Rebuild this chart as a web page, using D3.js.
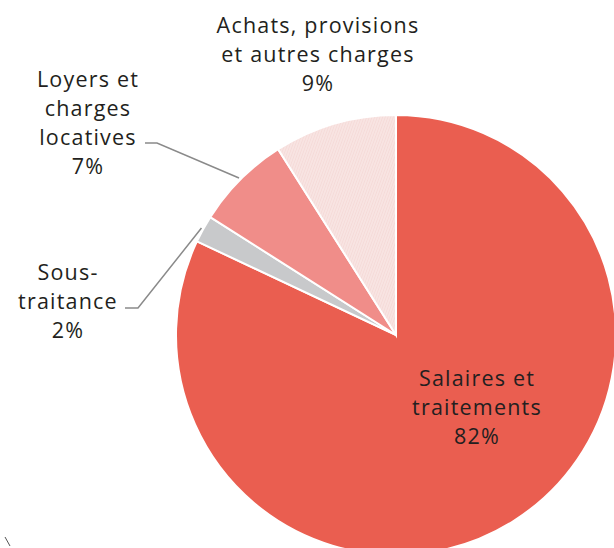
<!DOCTYPE html>
<html>
<head>
<meta charset="utf-8">
<script src="https://cdn.jsdelivr.net/npm/d3@7/dist/d3.min.js"></script>
<style>
  body { margin: 0; background: #fff; }
  svg { display: block; }
  text { font-family: "Open Sans", "Noto Sans", sans-serif; fill: #231f20; }
</style>
</head>
<body>
<svg id="chart" width="614" height="548"></svg>
<script>
// données
const categories = ["Salaires et traitements", "Sous-traitance", "Loyers et charges locatives", "Achats, provisions et autres charges"];
const values = [82, 2, 7, 9];
const colors = ["#ea5e50", "#c8c9cb", "#f08d89", "#f8e4e2"];
const labelLines = [
    ["Salaires et", "traitements", "82%"],
    ["Sous-", "traitance", "2%"],
    ["Loyers et", "charges", "locatives", "7%"],
    ["Achats, provisions", "et autres charges", "9%"]
];

const svg = d3.select("#chart");
const cx = 396, cy = 335, radius = 220;

// hachures pour la part "Achats"
const defs = svg.append("defs");
const pat = defs.append("pattern")
    .attr("id", "hatch")
    .attr("patternUnits", "userSpaceOnUse")
    .attr("width", 2.5)
    .attr("height", 3)
    .attr("patternTransform", "rotate(20)");
pat.append("rect").attr("width", 2.5).attr("height", 3).attr("fill", colors[3]);
pat.append("line")
    .attr("x1", 0).attr("y1", 0).attr("x2", 0).attr("y2", 3)
    .attr("stroke", "#f0cdca").attr("stroke-width", 0.8);

const pie = d3.pie().sort(null).value(d => d)(values);
const arc = d3.arc().innerRadius(0).outerRadius(radius);

const g = svg.append("g").attr("transform", `translate(${cx},${cy})`);

g.selectAll("path")
    .data(pie)
    .enter().append("path")
    .attr("d", arc)
    .attr("fill", (d, i) => i === 3 ? "url(#hatch)" : colors[i])
    .attr("stroke", "#fff")
    .attr("stroke-width", 2);

// lignes de rappel (Sous-traitance, Loyers)
const edgeArc = d3.arc().innerRadius(radius + 2).outerRadius(radius + 2);
const leaders = [
    { i: 1, x0: 125, x1: 138, y: 308 },
    { i: 2, x0: 145, x1: 157, y: 143 }
];
leaders.forEach(l => {
    const [ex, ey] = edgeArc.centroid(pie[l.i]);
    svg.append("polyline")
        .attr("points", `${l.x0},${l.y} ${l.x1},${l.y} ${cx + ex},${cy + ey}`)
        .attr("fill", "none")
        .attr("stroke", "#8a8a8a")
        .attr("stroke-width", 1.5);
});

// étiquettes
const labelPos = [
    { x: 477, y: 386 },
    { x: 68, y: 280 },
    { x: 88, y: 87 },
    { x: 318, y: 33 }
];
const lineH = 29;
labelLines.forEach((lines, i) => {
    const t = svg.append("text")
        .attr("text-anchor", "middle")
        .attr("font-size", 21.5)
        .attr("letter-spacing", 1.2);
    lines.forEach((s, k) => {
        t.append("tspan")
            .attr("x", labelPos[i].x)
            .attr("y", labelPos[i].y + k * lineH)
            .text(s);
    });
});

// petit trait résiduel en bas à gauche
svg.append("line")
    .attr("x1", 5).attr("y1", 537).attr("x2", 10).attr("y2", 546)
    .attr("stroke", "#555").attr("stroke-width", 1);
</script>
</body>
</html>
